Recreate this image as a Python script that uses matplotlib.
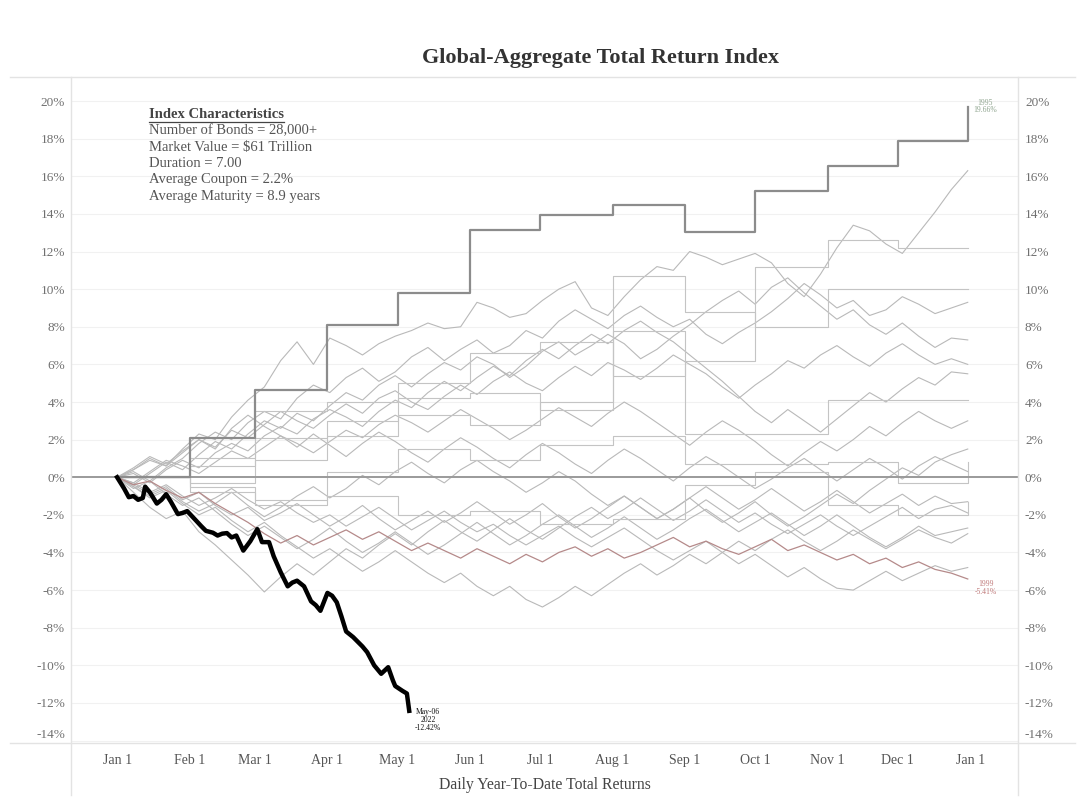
import numpy as np
import matplotlib
matplotlib.use("Agg")
import matplotlib.pyplot as plt
from matplotlib.lines import Line2D
from matplotlib.transforms import ScaledTranslation

plt.rcParams['font.family'] = ['Liberation Serif', 'DejaVu Serif']

# month starts (day of year) used for ticks and the monthly series
month_days = [0, 31, 59, 90, 120, 151, 181, 212, 243, 273, 304, 334, 365]
month_labels = ['Jan 1', 'Feb 1', 'Mar 1', 'Apr 1', 'May 1', 'Jun 1', 'Jul 1',
                'Aug 1', 'Sep 1', 'Oct 1', 'Nov 1', 'Dec 1', 'Jan 1']
step_days = [0, 31, 59, 90, 120, 151, 181, 212, 243, 273, 304, 334, 364]

# 1995, monthly data (steps)
y1995 = [0, 2.1, 4.65, 8.1, 9.8, 13.15, 13.95, 14.5, 13.05, 15.2, 16.55, 17.9, 19.66]

# other monthly years
step_series = [
    [0, 1.0, 3.5, 4.0, 5.0, 6.6, 7.2, 5.4, 6.2, 11.2, 12.6, 12.2, 12.2],
    [0, 0.6, 2.1, 3.0, 4.2, 4.5, 3.6, 10.7, 8.8, 8.0, 10.0, 10.0, 10.0],
    [0, -0.3, 0.9, 2.2, 3.3, 2.8, 4.0, 7.8, 2.3, 2.3, 4.1, 4.1, 4.1],
    [0, -0.5, -1.2, 0.3, 1.5, 0.9, 1.7, 2.2, 0.7, 0.7, 0.8, -0.3, 0.8],
    [0, -0.8, -1.5, -1.0, -2.0, -1.8, -2.5, -2.2, -0.4, 0.3, -1.5, -2.0, -1.3],
]

# daily years, read roughly once a week
daily_series = [
    [0, 0.4, 0.9, 0.6, 1.5, 2.3, 2.0, 3.2, 4.1, 4.8, 6.2, 7.2, 6.0, 7.4, 7.0, 6.5, 7.1, 7.5, 7.8, 8.2,
     7.9, 8.0, 9.3, 9.0, 8.5, 8.7, 9.4, 10.0, 10.4, 9.0, 8.6, 9.6, 10.5, 11.2, 11.0, 12.0, 11.7, 11.3,
     11.6, 11.9, 11.4, 10.3, 9.6, 10.8, 12.2, 13.4, 13.1, 12.4, 11.9, 13.0, 14.1, 15.3, 16.3],
    [0, 0.3, -0.2, 0.5, 1.0, 1.8, 2.4, 2.0, 2.9, 3.5, 3.1, 4.2, 4.9, 4.5, 5.3, 5.8, 5.1, 5.6, 6.4, 6.9,
     6.2, 6.8, 7.3, 6.6, 7.0, 7.8, 7.4, 8.3, 8.9, 8.4, 7.9, 8.6, 9.1, 8.5, 8.0, 8.4, 7.6, 7.1, 7.7, 8.2,
     8.8, 9.5, 10.3, 9.7, 9.0, 9.4, 8.6, 8.9, 9.6, 9.2, 8.7, 9.0, 9.3],
    [0, -0.4, 0.2, 0.8, 0.4, 1.2, 1.9, 1.5, 2.3, 3.0, 2.6, 3.4, 3.0, 3.8, 4.5, 4.1, 4.9, 5.4, 4.8, 5.5,
     6.1, 5.7, 6.4, 6.0, 5.3, 5.9, 6.7, 7.2, 6.5, 7.0, 7.6, 7.1, 6.3, 6.8, 7.5, 8.1, 8.8, 9.4, 9.9, 9.2,
     10.1, 10.6, 9.8, 9.1, 8.4, 8.9, 8.1, 7.6, 8.2, 7.5, 6.9, 7.4, 7.3],
    [0, 0.5, 1.1, 0.7, 1.4, 2.0, 1.6, 2.5, 2.1, 2.8, 3.5, 3.0, 2.6, 3.3, 3.9, 3.4, 4.2, 4.6, 4.0, 3.6,
     4.3, 4.9, 4.4, 5.1, 5.6, 5.0, 4.6, 5.3, 5.9, 5.4, 6.1, 5.7, 5.2, 5.8, 6.5, 6.0, 5.5, 4.8, 4.2, 4.9,
     5.5, 6.2, 5.8, 6.5, 7.0, 6.4, 5.9, 6.6, 7.1, 6.5, 6.0, 6.3, 6.0],
    [0, 0.2, -0.3, 0.4, 0.9, 0.5, 1.3, 1.8, 1.4, 2.2, 2.7, 2.3, 3.1, 3.6, 3.2, 2.7, 3.5, 4.1, 3.7, 4.5,
     5.1, 4.6, 5.3, 5.9, 5.4, 6.2, 6.8, 6.3, 7.0, 7.6, 7.1, 7.8, 8.3, 7.7, 7.2, 6.5, 5.8, 5.1, 4.3, 3.5,
     2.9, 3.6, 3.0, 2.4, 3.1, 3.8, 4.5, 4.0, 4.7, 5.3, 4.9, 5.6, 5.5],
    [0, -0.3, 0.3, 0.9, 0.6, 0.2, 0.8, 1.4, 1.0, 1.6, 2.2, 1.8, 1.3, 1.9, 2.5, 2.1, 2.8, 3.3, 2.9, 2.4,
     3.0, 3.6, 3.1, 2.6, 2.0, 2.5, 3.1, 3.7, 3.2, 2.7, 3.4, 4.0, 3.5, 2.9, 2.3, 1.7, 2.4, 3.0, 2.5, 1.9,
     1.2, 0.6, 1.3, 1.9, 1.4, 2.0, 2.7, 2.2, 2.9, 3.5, 3.0, 2.6, 3.0],
    [0, -0.5, -1.0, -0.6, -1.3, -1.8, -1.4, -0.8, -1.5, -2.1, -1.6, -1.0, -0.5, -1.1, -0.6, 0.1, -0.4,
     0.3, 0.8, 0.2, -0.3, 0.4, 0.9, 0.3, -0.2, -0.8, -0.3, 0.3, -0.2, -0.9, -1.5, -1.0, -1.6, -2.2, -1.7,
     -1.1, -1.8, -2.4, -1.9, -1.3, -2.0, -2.6, -2.1, -1.5, -0.9, -1.4, -0.7, -0.1, 0.5, 0.1, 0.8, 1.2, 1.5],
    [0, 0.4, 1.0, 0.6, 1.3, 2.0, 1.5, 2.6, 3.3, 2.7, 2.2, 1.6, 2.3, 1.7, 1.1, 1.8, 2.4, 1.9, 1.3, 0.8,
     1.5, 2.1, 1.6, 1.0, 0.5, 1.2, 1.8, 1.3, 0.7, 0.2, 0.9, 1.5, 1.0, 0.4, -0.2, 0.5, 1.1, 0.6, 0.0, -0.6,
     -0.1, 0.5, 1.0, 0.4, -0.2, 0.4, 1.0, 0.5, -0.1, 0.6, 1.1, 0.7, 0.3],
    [0, -0.4, -0.9, -0.5, -1.2, -0.8, -1.5, -2.0, -1.6, -2.3, -1.9, -1.4, -2.0, -2.6, -2.1, -1.5, -2.2,
     -2.8, -2.3, -1.8, -2.4, -1.9, -1.3, -1.9, -2.5, -2.0, -1.4, -2.1, -2.7, -2.2, -1.6, -1.0, -1.6, -2.2,
     -1.7, -1.1, -0.5, -1.1, -1.7, -1.2, -0.6, -1.2, -1.8, -1.3, -0.7, -1.3, -1.9, -1.4, -0.9, -1.5, -1.0,
     -1.4, -1.3],
    [0, -0.6, -0.2, -0.9, -1.5, -1.1, -1.8, -2.5, -3.1, -2.6, -3.2, -3.8, -3.3, -2.7, -3.4, -4.0, -3.5,
     -2.9, -3.5, -4.1, -3.6, -3.0, -2.4, -3.0, -3.6, -3.1, -2.5, -2.0, -2.6, -3.2, -2.7, -2.1, -2.7, -3.3,
     -2.8, -2.2, -1.7, -2.3, -2.9, -2.4, -1.9, -2.5, -3.1, -2.6, -2.0, -2.6, -3.2, -3.7, -3.2, -2.6, -3.1,
     -2.9, -2.7],
    [0, -0.5, -1.1, -0.7, -1.4, -2.0, -1.6, -2.3, -2.9, -2.4, -3.1, -3.7, -4.3, -3.8, -4.4, -5.0, -4.5,
     -3.9, -4.5, -5.1, -5.6, -5.1, -5.8, -6.3, -5.8, -6.5, -6.9, -6.4, -5.8, -6.3, -5.7, -5.1, -4.6, -5.2,
     -4.7, -4.1, -4.6, -4.0, -3.4, -3.9, -3.3, -2.8, -3.4, -3.9, -3.4, -2.8, -3.3, -3.8, -3.3, -2.8, -3.2,
     -3.5, -3.0],
    [0, -0.3, -0.8, -0.4, -1.0, -1.5, -1.1, -0.6, -1.2, -1.7, -1.3, -1.9, -2.4, -2.0, -2.6, -2.1, -1.6,
     -2.2, -2.8, -2.3, -1.8, -2.4, -2.9, -2.5, -3.1, -3.6, -3.1, -2.6, -3.2, -3.7, -3.2, -2.7, -3.3, -3.9,
     -4.4, -3.9, -3.4, -4.0, -4.6, -4.1, -4.7, -5.3, -4.8, -5.4, -5.9, -6.0, -5.5, -5.0, -5.5, -5.1, -4.7,
     -5.0, -4.8],
    [0, -0.8, -1.6, -2.2, -1.8, -2.9, -3.6, -4.4, -5.2, -6.1, -5.3, -4.6, -5.2, -4.5, -3.8, -4.3, -3.6,
     -3.0, -3.6, -2.9, -2.3, -2.9, -3.4, -2.8, -2.2, -2.8, -3.3, -2.7, -2.1, -1.6, -2.2, -1.7, -1.1, -1.7,
     -2.3, -1.8, -1.2, -1.8, -2.4, -1.9, -2.5, -3.0, -2.5, -2.0, -2.6, -3.1, -2.6, -2.1, -1.6, -2.2, -1.7,
     -1.5, -1.9],
]

# 1999, highlighted in red
y1999 = [0, -0.4, -0.2, -0.7, -1.1, -0.8, -1.4, -1.9, -2.4, -3.0, -3.5, -3.1, -3.6, -3.2, -2.8, -3.3,
         -2.9, -3.4, -3.9, -3.5, -3.9, -4.3, -3.8, -4.2, -4.6, -4.1, -4.5, -4.0, -3.7, -4.2, -3.8, -4.3,
         -4.0, -3.6, -3.2, -3.7, -3.4, -3.8, -4.1, -3.7, -3.3, -3.9, -3.6, -4.0, -4.4, -4.1, -4.6, -4.3,
         -4.8, -4.5, -4.9, -5.1, -5.41]

# 2022 year to date (to May-06)
days2022 = [0, 3, 5, 7, 9, 11, 12, 14, 17, 19, 21, 23, 26, 28, 30, 33, 36, 38, 41, 43,
            45, 47, 49, 51, 54, 57, 60, 62, 65, 67, 70, 73, 75, 77, 80, 83, 85, 87, 90, 92,
            94, 96, 98, 101, 103, 105, 107, 110, 113, 116, 118, 119, 122, 124, 125]
y2022 = [0, -0.6, -1.06, -1.0, -1.2, -1.1, -0.5, -0.8, -1.4, -1.2, -0.9, -1.3, -1.96, -1.9, -1.8,
         -2.2, -2.6, -2.85, -2.95, -3.1, -3.0, -2.97, -3.2, -3.1, -3.9, -3.4, -2.76, -3.45, -3.45, -4.2,
         -5.05, -5.8, -5.6, -5.5, -5.8, -6.6, -6.8, -7.1, -6.15, -6.3, -6.65, -7.4, -8.2, -8.5, -8.75,
         -9.0, -9.3, -10.0, -10.45, -10.1, -10.8, -11.1, -11.35, -11.5, -12.42]

y_ticks = list(range(-14, 21, 2))

info_title = 'Index Characteristics'
info_lines = ['Number of Bonds = 28,000+', 'Market Value = $61 Trillion', 'Duration = 7.00',
              'Average Coupon = 2.2%', 'Average Maturity = 8.9 years']

W, H = 1080, 802
fig = plt.figure(figsize=(W / 100, H / 100), dpi=100)
fig.patch.set_facecolor('white')
ax = fig.add_axes([72 / W, 1 - 743 / H, (1018 - 72) / W, (743 - 77) / H])

grey = '#b9b9b9'
for ys in daily_series:
    ax.plot(np.linspace(0, 364, len(ys)), ys, color=grey, lw=0.8, zorder=2)
for ys in step_series:
    ax.plot(step_days, ys, drawstyle='steps-post', color='#c4c4c4', lw=0.8, zorder=2)

ax.plot(np.linspace(0, 364, len(y1999)), y1999, color='#b58a8a', lw=0.9, zorder=3)
ax.plot(step_days, y1995, drawstyle='steps-post', color='#8c8c8c', lw=1.6, zorder=3)
ax.axhline(0, color='#9a9a9a', lw=1.4, zorder=2.5)
ax.plot(days2022, y2022, color='black', lw=3.2, solid_joinstyle='round', zorder=5)

# end labels
ax.annotate('1995\n19.66%', (step_days[-1], y1995[-1]), xytext=(17, 1), textcoords='offset pixels',
            ha='center', va='center', fontsize=5.5, color='#8fa58f', linespacing=0.9)
ax.annotate('1999\n-5.41%', (364, y1999[-1]), xytext=(18, -9), textcoords='offset pixels',
            ha='center', va='center', fontsize=5.5, color='#c07a7a', linespacing=0.9)
ax.annotate('May-06\n2022\n-12.42%', (days2022[-1], y2022[-1]), xytext=(19, -9),
            textcoords='offset pixels', ha='center', va='center', fontsize=5.5, color='#111111',
            linespacing=1.0)

# info block
t = ax.text(149 / W, 1 - 114 / H, info_title, transform=fig.transFigure, fontsize=10.5,
            fontweight='bold', color='#444444', va='center', ha='left')
for i, s in enumerate(info_lines):
    ax.text(149 / W, 1 - (131 + i * 16.3) / H, s, transform=fig.transFigure, fontsize=10.5,
            color='#555555', va='center', ha='left')
fig.canvas.draw()
bb = t.get_window_extent()
fig.add_artist(Line2D([bb.x0 / W, bb.x1 / W], [(bb.y0 - 1) / H, (bb.y0 - 1) / H],
                      transform=fig.transFigure, color='#444444', lw=0.9))

ax.set_xlim(-19.3, 385.5)
ax.set_ylim(-14.13, 21.28)
ax.set_yticks(y_ticks)
ax.set_yticklabels([f'{v}%' for v in y_ticks])
ax.set_xticks(month_days)
ax.set_xticklabels(month_labels)
ax.tick_params(axis='y', length=0, pad=5, labelsize=9.5, labelcolor='#707070',
               labelleft=True, labelright=True)
ax.tick_params(axis='x', length=0, pad=15, labelsize=10, labelcolor='#555555')
for lab in ax.get_xticklabels():
    lab.set_verticalalignment('baseline')
ax.grid(axis='y', color='#f1f1f1', lw=0.8)
ax.set_axisbelow(True)
for sp in ax.spines.values():
    sp.set_visible(False)
ax.set_xlabel('Daily Year-To-Date Total Returns', fontsize=11.3, color='#444444', labelpad=7)

# the bottom -14% labels sit a little above the frame line in the original
tick0 = ax.yaxis.get_major_ticks()[0]
lift = ScaledTranslation(0, 7 / 100, fig.dpi_scale_trans)
tick0.label1.set_transform(tick0.label1.get_transform() + lift)
tick0.label2.set_transform(tick0.label2.get_transform() + lift)

# table-like frame lines
fc = '#e3e3e3'
fig.add_artist(Line2D([10 / W, 1075 / W], [1 - 77 / H] * 2, transform=fig.transFigure, color=fc, lw=1))
fig.add_artist(Line2D([10 / W, 1075 / W], [1 - 743 / H] * 2, transform=fig.transFigure, color=fc, lw=1))
fig.add_artist(Line2D([71 / W] * 2, [1 - 77 / H, 1 - 795 / H], transform=fig.transFigure, color=fc, lw=1))
fig.add_artist(Line2D([1018 / W] * 2, [1 - 77 / H, 1 - 795 / H], transform=fig.transFigure, color=fc, lw=1))

fig.text(600 / W, 1 - 58 / H, 'Global-Aggregate Total Return Index', ha='center', va='center',
         fontsize=16, fontweight='bold', color='#333333')

fig.savefig('out.png', dpi=100, facecolor='white')
